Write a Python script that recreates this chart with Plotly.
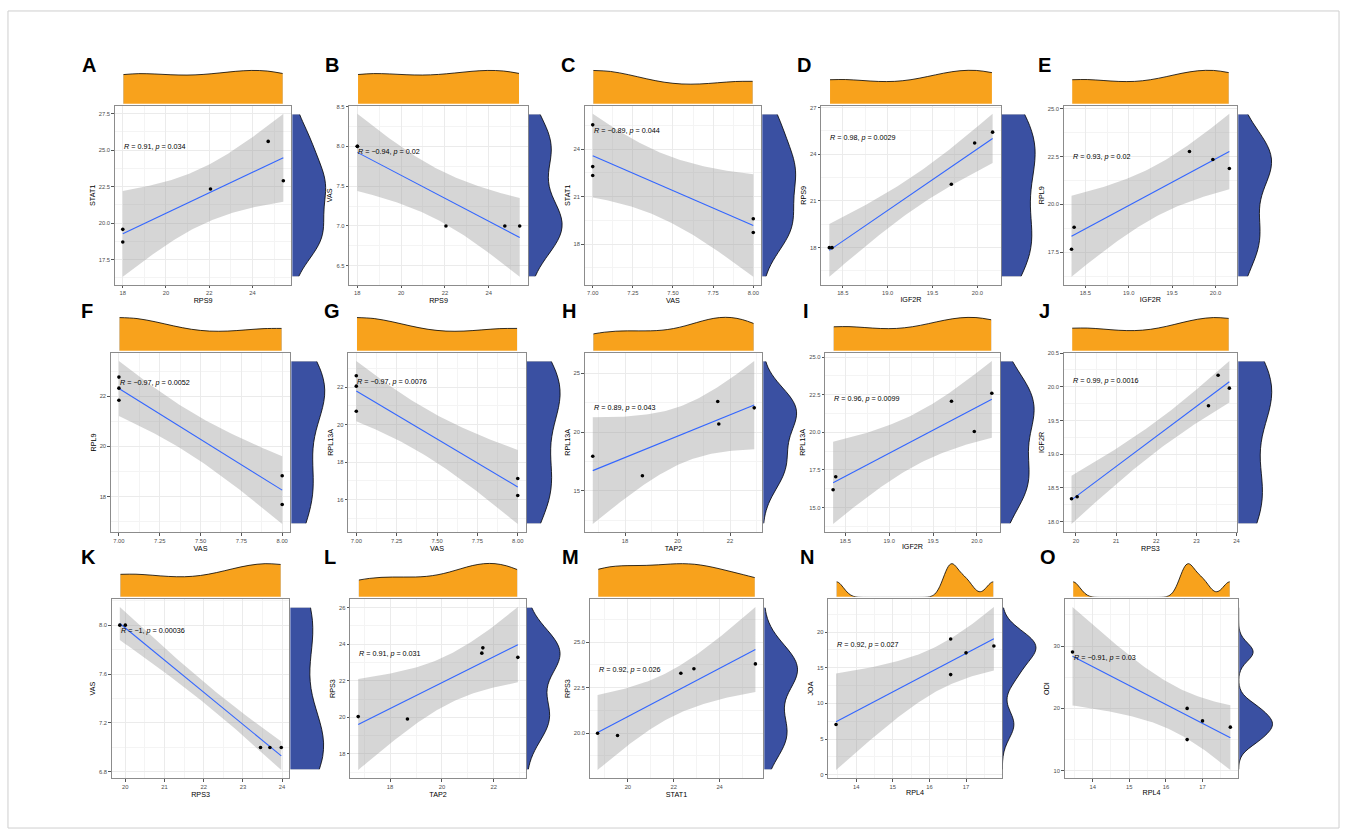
import numpy as np
import plotly.graph_objects as go

W, H = 1350, 835

# ---------------- data ----------------
letters = ["A", "B", "C", "D", "E", "F", "G", "H", "I", "J", "K", "L", "M", "N", "O"]
x_titles = ["RPS9", "RPS9", "VAS", "IGF2R", "IGF2R", "VAS", "VAS", "TAP2", "IGF2R", "RPS3",
            "RPS3", "TAP2", "STAT1", "RPL4", "RPL4"]
y_titles = ["STAT1", "VAS", "STAT1", "RPS9", "RPL9", "RPL9", "RPL13A", "RPL13A", "RPL13A", "IGF2R",
            "VAS", "RPS3", "RPS3", "JOA", "ODI"]
r_text = ["0.91", "\u22120.94", "\u22120.89", "0.98", "0.93", "\u22120.97", "\u22120.97", "0.89", "0.96", "0.99",
          "\u22121", "0.91", "0.92", "0.92", "\u22120.91"]
p_text = ["0.034", "0.02", "0.044", "0.0029", "0.02", "0.0052", "0.0076", "0.043", "0.0099", "0.0016",
          "0.00036", "0.031", "0.026", "0.027", "0.03"]

A_x = [18.0, 18.0, 22.06, 24.73, 25.43]
A_y = [19.57, 18.70, 22.34, 25.60, 22.90]
B_x = [18.0, 18.0, 22.05, 24.74, 25.42]
B_y = [8.0, 8.0, 7.0, 7.0, 7.0]
C_x = [7.0, 7.0, 7.0, 8.0, 8.0]
C_y = [25.54, 22.90, 22.34, 19.61, 18.74]
D_x = [18.35, 18.38, 19.71, 19.97, 20.17]
D_y = [18.0, 18.0, 22.07, 24.72, 25.42]
E_x = [18.34, 18.37, 19.70, 19.97, 20.16]
E_y = [17.65, 18.80, 22.77, 22.35, 21.88]
F_x = [7.0, 7.0, 7.0, 8.0, 8.0]
F_y = [22.76, 22.32, 21.84, 18.83, 17.69]
G_x = [7.0, 7.0, 7.0, 8.0, 8.0]
G_y = [22.60, 22.05, 20.71, 17.13, 16.23]
H_x = [16.77, 18.66, 21.53, 21.57, 22.92]
H_y = [17.94, 16.27, 22.60, 20.68, 22.06]
I_x = [18.36, 18.39, 19.71, 19.97, 20.17]
I_y = [16.18, 17.05, 22.07, 20.06, 22.60]
J_x = [19.89, 20.03, 23.30, 23.54, 23.82]
J_y = [18.34, 18.37, 19.72, 20.17, 19.98]
K_x = [19.86, 20.0, 23.45, 23.69, 23.98]
K_y = [8.0, 8.0, 7.0, 7.0, 7.0]
L_x = [16.77, 18.67, 21.54, 21.58, 22.93]
L_y = [20.04, 19.91, 23.51, 23.80, 23.28]
M_x = [18.68, 19.55, 22.31, 22.88, 25.56]
M_y = [20.0, 19.87, 23.29, 23.53, 23.80]
N_x = [13.45, 16.58, 16.58, 17.0, 17.76]
N_y = [7.04, 19.03, 14.03, 17.08, 18.05]
O_x = [13.45, 16.58, 16.58, 17.0, 17.76]
O_y = [29.05, 20.0, 15.0, 18.0, 17.0]

panels_x = [A_x, B_x, C_x, D_x, E_x, F_x, G_x, H_x, I_x, J_x, K_x, L_x, M_x, N_x, O_x]
panels_y = [A_y, B_y, C_y, D_y, E_y, F_y, G_y, H_y, I_y, J_y, K_y, L_y, M_y, N_y, O_y]

# ---------------- styles / geometry ----------------
x_dtick = [2, 2, 0.25, 0.5, 0.5, 0.25, 0.25, 2, 0.5, 1, 1, 2, 2, 1, 1]
x_fmt = ["d", "d", ".2f", ".1f", ".1f", ".2f", ".2f", "d", ".1f", "d", "d", "d", "d", "d", "d"]
y_dtick = [2.5, 0.5, 3, 3, 2.5, 2, 2, 5, 2.5, 0.5, 0.4, 2, 2.5, 5, 10]
y_fmt = [".1f", ".1f", "d", "d", ".1f", "d", "d", "d", ".1f", ".1f", ".1f", "d", ".1f", "d", "d"]

main_left = [115, 350, 586, 823, 1066, 111, 349, 586, 827, 1066, 112, 351, 591, 830, 1067]
main_right = [292, 529, 763, 1003, 1240, 291, 527, 764, 1002, 1240, 290, 527, 765, 1004, 1241]
row_top = [103, 351, 598]
panel_h = 180
letter_x = [80, 324, 560, 797, 1038, 79, 323, 561, 803, 1039, 79, 323, 561, 800, 1040]
letter_y = [62, 309, 556]

ORANGE = "#F8A21C"
BLUE = "#3A50A2"
T975 = {1: 12.706, 2: 4.303, 3: 3.182, 4: 2.776, 5: 2.571}
FONT = "Liberation Sans, Arial, sans-serif"


def nrd0(v):
    v = np.asarray(v, float)
    sd = v.std(ddof=1)
    q75, q25 = np.percentile(v, [75, 25])
    lo = min(sd, (q75 - q25) / 1.34)
    if lo <= 0:
        lo = sd if sd > 0 else 1.0
    return 0.9 * lo * len(v) ** -0.2


fig = go.Figure()
layout = dict(
    width=W, height=H, margin=dict(l=0, r=0, t=0, b=0),
    paper_bgcolor="white", plot_bgcolor="white", showlegend=False,
    font=dict(family=FONT, color="black"),
)
annotations = []


def ax_name(kind, n):
    return f"{kind}axis" if n == 1 else f"{kind}axis{n}"


def ref(kind, n):
    return kind if n == 1 else f"{kind}{n}"


for i in range(15):
    x = np.asarray(panels_x[i], float)
    y = np.asarray(panels_y[i], float)
    n = len(x)
    slope, icpt = np.polyfit(x, y, 1)
    xs = np.linspace(x.min(), x.max(), 80)
    fit = icpt + slope * xs
    resid = y - (icpt + slope * x)
    s = np.sqrt((resid ** 2).sum() / (n - 2))
    sxx = ((x - x.mean()) ** 2).sum()
    se = s * np.sqrt(1.0 / n + (xs - x.mean()) ** 2 / sxx)
    up = fit + T975[n - 2] * se
    lo = fit - T975[n - 2] * se

    xlo, xhi = x.min(), x.max()
    ylo, yhi = min(lo.min(), y.min()), max(up.max(), y.max())
    dx, dy = xhi - xlo, yhi - ylo
    xr = [xlo - 0.05 * dx, xhi + 0.05 * dx]
    yr = [ylo - 0.05 * dy, yhi + 0.05 * dy]

    m, t, r = 3 * i + 1, 3 * i + 2, 3 * i + 3
    L, R = main_left[i], main_right[i]
    T = row_top[i // 5]
    B = T + panel_h

    # pixel scales for marginal sub-domains (side outlines hidden by clipping)
    sx = (R - L) / (xr[1] - xr[0])
    sy = (B - T) / (yr[1] - yr[0])
    cut = 0.7
    tx0 = L + (xlo - xr[0]) * sx + cut
    tx1 = L + (xhi - xr[0]) * sx - cut
    tr_range = [xlo + cut / sx, xhi - cut / sx]
    ry_top = T + (yr[1] - yhi) * sy + cut
    ry_bot = T + (yr[1] - ylo) * sy - cut
    rr_range = [ylo + cut / sy, yhi - cut / sy]

    # ribbon
    fig.add_trace(go.Scatter(x=np.concatenate([xs, xs[::-1]]), y=np.concatenate([up, lo[::-1]]),
                             fill="toself", fillcolor="rgba(153,153,153,0.4)", line=dict(width=0),
                             mode="lines", hoverinfo="skip", xaxis=ref("x", m), yaxis=ref("y", m)))
    # fit line
    fig.add_trace(go.Scatter(x=xs, y=fit, mode="lines", line=dict(color="#3366FF", width=1.1),
                             hoverinfo="skip", xaxis=ref("x", m), yaxis=ref("y", m)))
    # points
    fig.add_trace(go.Scatter(x=x, y=y, mode="markers", marker=dict(color="black", size=3.6),
                             xaxis=ref("x", m), yaxis=ref("y", m)))
    # top marginal density
    fig.add_trace(go.Violin(x=x, y0=0, orientation="h", side="positive", width=2,
                            spanmode="manual", span=[xlo, xhi], bandwidth=nrd0(x),
                            fillcolor=ORANGE, line=dict(color="black", width=0.8), opacity=1,
                            points=False, hoverinfo="skip", xaxis=ref("x", t), yaxis=ref("y", t)))
    # right marginal density
    fig.add_trace(go.Violin(y=y, x0=0, orientation="v", side="positive", width=2,
                            spanmode="manual", span=[ylo, yhi], bandwidth=nrd0(y),
                            fillcolor=BLUE, line=dict(color="black", width=0.8), opacity=1,
                            points=False, hoverinfo="skip", xaxis=ref("x", r), yaxis=ref("y", r)))

    xdom = [L / W, R / W]
    ydom = [1 - B / H, 1 - T / H]
    common = dict(showline=True, mirror=True, linecolor="#8C8C8C", linewidth=1,
                  ticks="outside", ticklen=2.5, tickwidth=0.6, tickcolor="#555555",
                  tickfont=dict(size=5.8, color="#4D4D4D", family=FONT),
                  showgrid=True, gridcolor="#EBEBEB", gridwidth=0.7, zeroline=False,
                  type="linear")
    layout[ax_name("x", m)] = dict(common, domain=xdom, range=xr, anchor=ref("y", m),
                                   dtick=x_dtick[i], tick0=0, tickformat=x_fmt[i],
                                   minor=dict(dtick=x_dtick[i] / 2, tick0=0, showgrid=True,
                                              gridcolor="#F4F4F4", gridwidth=0.5),
                                   title=dict(text=x_titles[i],
                                              font=dict(size=7.2, family=FONT, color="black"),
                                              standoff=1))
    layout[ax_name("y", m)] = dict(common, domain=ydom, range=yr, anchor=ref("x", m),
                                   dtick=y_dtick[i], tick0=0, tickformat=y_fmt[i],
                                   minor=dict(dtick=y_dtick[i] / 2, tick0=0, showgrid=True,
                                              gridcolor="#F4F4F4", gridwidth=0.5),
                                   title=dict(text=y_titles[i],
                                              font=dict(size=7.2, family=FONT, color="black"),
                                              standoff=2))
    hidden = dict(visible=False, showgrid=False, zeroline=False, type="linear", fixedrange=True)
    layout[ax_name("x", t)] = dict(hidden, domain=[tx0 / W, tx1 / W], range=tr_range,
                                   anchor=ref("y", t))
    layout[ax_name("y", t)] = dict(hidden, domain=[1 - (T - 2) / H, 1 - (T - 37) / H],
                                   range=[0.015, 1.05], anchor=ref("x", t))
    layout[ax_name("x", r)] = dict(hidden, domain=[(R + 1) / W, (R + 36) / W],
                                   range=[0.015, 1.05], anchor=ref("y", r))
    layout[ax_name("y", r)] = dict(hidden, domain=[1 - ry_bot / H, 1 - ry_top / H],
                                   range=rr_range, anchor=ref("x", r))

    annotations.append(dict(x=xlo, y=y.max(), xref=ref("x", m), yref=ref("y", m),
                            text=f"<i>R</i> = {r_text[i]}, <i>p</i> = {p_text[i]}",
                            showarrow=False, xanchor="left", yanchor="top",
                            font=dict(size=7.2, family=FONT, color="black"), borderpad=0))
    annotations.append(dict(x=letter_x[i] / W, y=1 - letter_y[i // 5] / H, xref="paper", yref="paper",
                            text=f"<b>{letters[i]}</b>", showarrow=False, xanchor="left",
                            yanchor="middle", font=dict(size=20, family=FONT, color="black")))

layout["annotations"] = annotations
layout["shapes"] = [dict(type="rect", xref="paper", yref="paper", x0=8 / W, x1=1342 / W,
                         y0=1 - 828 / H, y1=1 - 8 / H, line=dict(color="#CFCFCF", width=1))]
layout["violingap"] = 0
layout["violingroupgap"] = 0
fig.update_layout(**layout)
fig.write_html("out.html", config={"displayModeBar": False},
               post_script="document.body.style.margin='0px';")
